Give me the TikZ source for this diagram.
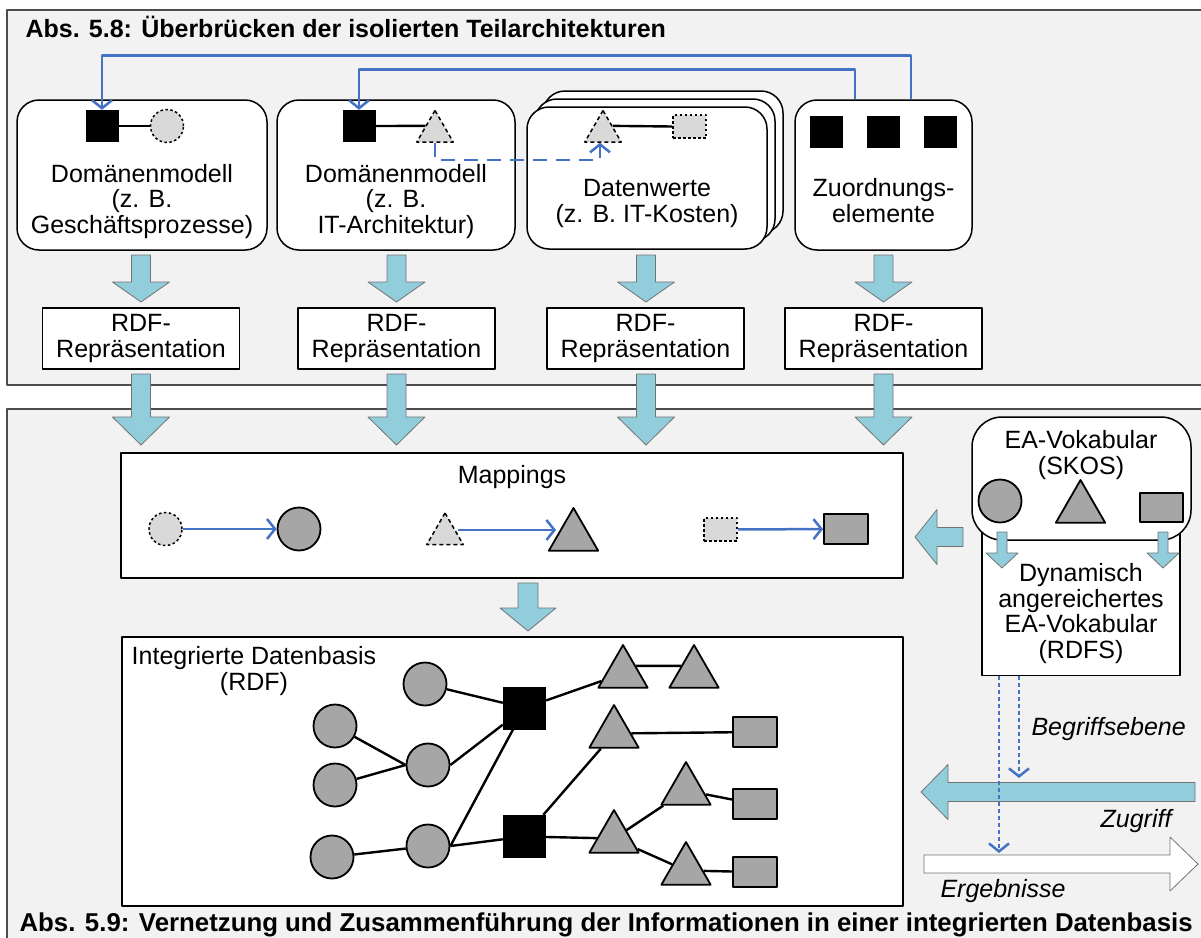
\documentclass[tikz,border=0pt]{standalone}
\usepackage{fontspec}
\setmainfont{Liberation Sans}
\usetikzlibrary{shapes.geometric,arrows.meta}
\definecolor{panel}{HTML}{F2F2F2}
\definecolor{cyanpf}{HTML}{92CDDC}
\definecolor{blau}{HTML}{4472C4}
\definecolor{hgrau}{HTML}{D9D9D9}
\definecolor{mgrau}{HTML}{A6A6A6}
\newcommand{\gr}{\fontsize{25}{25.5}\selectfont}
% Blockpfeil: [Farbe]{Spitze}{Winkel}{Laenge}{Schaft/2}{Kopf/2}{Kopflaenge}
\newcommand{\blockpfeil}[7][cyanpf]{%
  \begin{scope}[shift={#2},rotate=#3]
    \draw[fill=#1,draw=black!55,line width=0.8pt] (0,0) -- (-#7,#6) -- (-#7,#5) -- (-#4,#5)
      -- (-#4,-#5) -- (-#7,-#5) -- (-#7,-#6) -- cycle;
  \end{scope}}
\begin{document}
\begin{tikzpicture}[x=1pt,y=-1pt,line join=round,font=\gr,
  rbox/.style={draw,line width=1.5pt,fill=white,rounded corners=22pt,inner sep=0pt},
  eckbox/.style={draw,line width=1.5pt,fill=white,inner sep=0pt},
  rdf/.style={eckbox,minimum width=197pt,minimum height=61pt,align=center},
  quad/.style={fill=black,minimum width=33pt,minimum height=32pt,inner sep=0pt},
  kreisgestr/.style={circle,draw,fill=hgrau,line width=1.5pt,dash pattern=on 2.5pt off 2.5pt,minimum size=33pt,inner sep=0pt},
  dreieckgestr/.style={regular polygon,regular polygon sides=3,draw,fill=hgrau,line width=1.5pt,dash pattern=on 4pt off 3pt,minimum size=42pt,inner sep=0pt},
  eckgestr/.style={draw,fill=hgrau,line width=1.5pt,dash pattern=on 2.5pt off 2.5pt,minimum width=33pt,minimum height=23pt,inner sep=0pt},
  kreis/.style={circle,draw,fill=mgrau,line width=1.8pt,minimum size=43pt,inner sep=0pt},
  dreieck/.style={regular polygon,regular polygon sides=3,draw,fill=mgrau,line width=1.8pt,minimum size=57pt,inner sep=0pt},
  rechteck/.style={draw,fill=mgrau,line width=1.8pt,minimum width=44pt,minimum height=30pt,inner sep=0pt},
  schwarz/.style={fill=black,minimum size=43pt,inner sep=0pt},
  linie/.style={line width=2.4pt},
  verbind/.style={draw=blau,line width=2.5pt,-{Straight Barb[length=8pt,width=20pt]}},
  punkt/.style={dash pattern=on 4pt off 3pt},
  kursiv/.style={font=\gr\itshape}]
\useasboundingbox (0,0) rectangle (1201,937);
\clip (0,0) rectangle (1201,937);
%% Hintergrund
\filldraw[panel,draw=black!70,line width=1.2pt] (7,10) rectangle (1215,385);
\filldraw[panel,draw=black!70,line width=1.2pt] (7,409) rectangle (1215,950);
\node[anchor=base west,font=\gr\bfseries] (titel1) at (22,37) {Abs. 5.8: Überbrücken der isolierten Teilarchitekturen};
\node[anchor=base west,font=\fontsize{25.8}{26}\selectfont\bfseries] (titel2) at (16,931) {Abs. 5.9: Vernetzung und Zusammenführung der Informationen in einer integrierten Datenbasis};
%% Teilarchitekturen
\node[rbox,minimum width=250pt,minimum height=150pt] (b1) at (142,175) {};
\node[rbox,minimum width=238pt,minimum height=150pt] (b2) at (396,175) {};
\node[rbox,minimum width=240pt,minimum height=142pt] (b3c) at (663,162) {};
\node[rbox,minimum width=240pt,minimum height=142pt] (b3b) at (655,170) {};
\node[rbox,minimum width=240pt,minimum height=142pt] (b3) at (647,178) {};
\node[rbox,minimum width=177pt,minimum height=150pt] (b4) at (883.5,175) {};
\node[quad] (q1) at (102,126) {};
\node[kreisgestr] (k1) at (167,126) {};
\draw[linie] (q1.east) -- (k1.west);
\node[quad] (q2) at (359,126) {};
\node[dreieckgestr] (d2) at (435,131.5) {};
\draw[linie] (q2.east) -- (d2.side 1);
\node[dreieckgestr] (d3) at (603,131.5) {};
\node[eckgestr] (e3) at (689.5,126.5) {};
\draw[linie] (d3.side 3) -- (e3.west);
\node[quad] (z1) at (826,132) {};
\node[quad] (z2) at (883.5,132) {};
\node[quad] (z3) at (940.5,132) {};
\node[anchor=base,align=center] (t1) at (142,233) {Domänenmodell\\(z. B.\\Geschäftsprozesse)};
\node[anchor=base,align=center] (t2) at (396,233) {Domänenmodell\\(z. B.\\IT-Architektur)};
\node[anchor=base,align=center] (t3) at (647,222) {Datenwerte\\(z. B. IT-Kosten)};
\node[anchor=base,align=center] (t4) at (883.5,222) {Zuordnungs-\\elemente};
%% Verbindungen
\draw[verbind] ([xshift=27.5pt]b4.north) -- ++(0,-44) -| (q1.north);
\draw[verbind] ([xshift=-28.5pt]b4.north) -- ++(0,-30) -| (q2.north);
\draw[verbind,dash pattern=on 14pt off 9pt] (d2.south) -- ++(0,17) -| ([xshift=-3pt]d3.south);
%% RDF
\node[rdf] (r1) at (141,338.5) {RDF-\\Repräsentation};
\node[rdf] (r2) at (396.5,338.5) {RDF-\\Repräsentation};
\node[rdf] (r3) at (645.5,338.5) {RDF-\\Repräsentation};
\node[rdf] (r4) at (883.5,338.5) {RDF-\\Repräsentation};
\foreach \x in {141,396.5,646,883.5}{
  \blockpfeil{(\x,302)}{-90}{47}{9.5}{28.5}{20}
  \blockpfeil{(\x,445)}{-90}{71}{9.5}{28.5}{28}}
%% Mappings
\node[eckbox,minimum width=782pt,minimum height=125pt] (map) at (512,515.5) {};
\node[anchor=base] (maptext) at (512,483) {Mappings};
\node[kreisgestr] (mk1) at (165.5,529) {};
\node[kreis] (mk2) at (299,529) {};
\draw[verbind] (mk1) -- (mk2);
\node[dreieckgestr] (md1) at (445,534) {};
\node[dreieck] (md2) at (573.5,536.5) {};
\draw[verbind] ([yshift=4pt]md1.east) -- ([yshift=6.5pt]md2.west);
\node[eckgestr] (me1) at (720.5,529.5) {};
\node[rechteck] (me2) at (846,529) {};
\draw[verbind] (me1) -- (me2);
\blockpfeil{(528,631)}{-90}{48}{10}{28}{23}
%% Datenbasis
\node[eckbox,minimum width=781pt,minimum height=269pt] (db) at (512.5,771.5) {};
\node[anchor=base,align=center] (dbtext) at (254,690) {Integrierte Datenbasis\\(RDF)};
\node[kreis] (ctop) at (425,684) {};
\node[kreis] (ca) at (335,726) {};
\node[kreis] (cb) at (335,785) {};
\node[kreis] (cmid) at (428,765) {};
\node[kreis] (cc) at (332,857) {};
\node[kreis] (clow) at (428,846) {};
\node[schwarz] (s1) at (524.5,708) {};
\node[schwarz] (s2) at (524.5,836.5) {};
\node[dreieck] (g1) at (623,673.5) {};
\node[dreieck] (g2) at (694,673.5) {};
\node[dreieck] (g3) at (614,733.5) {};
\node[dreieck] (g4) at (686,790.5) {};
\node[dreieck] (g5) at (614,838.5) {};
\node[dreieck] (g6) at (686,870.5) {};
\node[rechteck] (p1) at (755,732) {};
\node[rechteck] (p2) at (755,804) {};
\node[rechteck] (p3) at (755,872) {};
\draw[linie] (ctop) -- (s1) (ca) -- (cmid.west) (cb) -- (cmid.west) (cmid.east) -- (s1)
  (cc) -- (clow) (clow.east) -- (s1) (clow.east) -- (s2);
\draw[linie] (s1) -- (g1) (g1.side 3) -- (g2.side 1) (s2) -- (g3) (g3) -- (p1)
  (s2) -- (g5) (g5) -- (g4) (g4) -- (p2) (g5) -- (g6) (g6) -- (p3);
%% EA-Vokabular
\node[eckbox,minimum width=198pt,minimum height=180pt,anchor=south] (dyn) at (1081,676) {};
\node[rbox,rounded corners=30pt,minimum width=219pt,minimum height=123pt] (ea) at (1081.5,478.5) {};
\node[anchor=base,align=center] (eatext) at (1081,474) {EA-Vokabular\\(SKOS)};
\node[kreis] (ek) at (1000,501) {};
\node[dreieck] (et) at (1080.5,508.5) {};
\node[rechteck,minimum width=43pt,minimum height=29pt] (er) at (1161.5,507.5) {};
\node[anchor=base,align=center] (dyntext) at (1081,658) {Dynamisch\\angereichertes\\EA-Vokabular\\(RDFS)};
\blockpfeil{(1002,568)}{-90}{36}{5}{16}{15}
\blockpfeil{(1163,568)}{-90}{36}{5}{16}{15}
\blockpfeil{(915,537)}{180}{48}{9.5}{27.5}{22}
%% Zugriff / Ergebnisse
\blockpfeil{(921,792)}{180}{274}{9.5}{27.5}{27}
\blockpfeil[white]{(1198,864)}{0}{274}{9}{27}{28}
\coordinate (f1) at (999,853);
\coordinate (f2) at (1019,778);
\draw[verbind,punkt] (dyn.south -| f1) -- (f1);
\draw[verbind,punkt] (dyn.south -| f2) -- (f2);
\node[kursiv,anchor=base west] (begriff) at (1028,735) {Begriffsebene};
\node[kursiv,anchor=base east] (zugriff) at (1175,827) {Zugriff};
\node[kursiv,anchor=base west] (ergebnis) at (937,897) {Ergebnisse};
\end{tikzpicture}
\end{document}
